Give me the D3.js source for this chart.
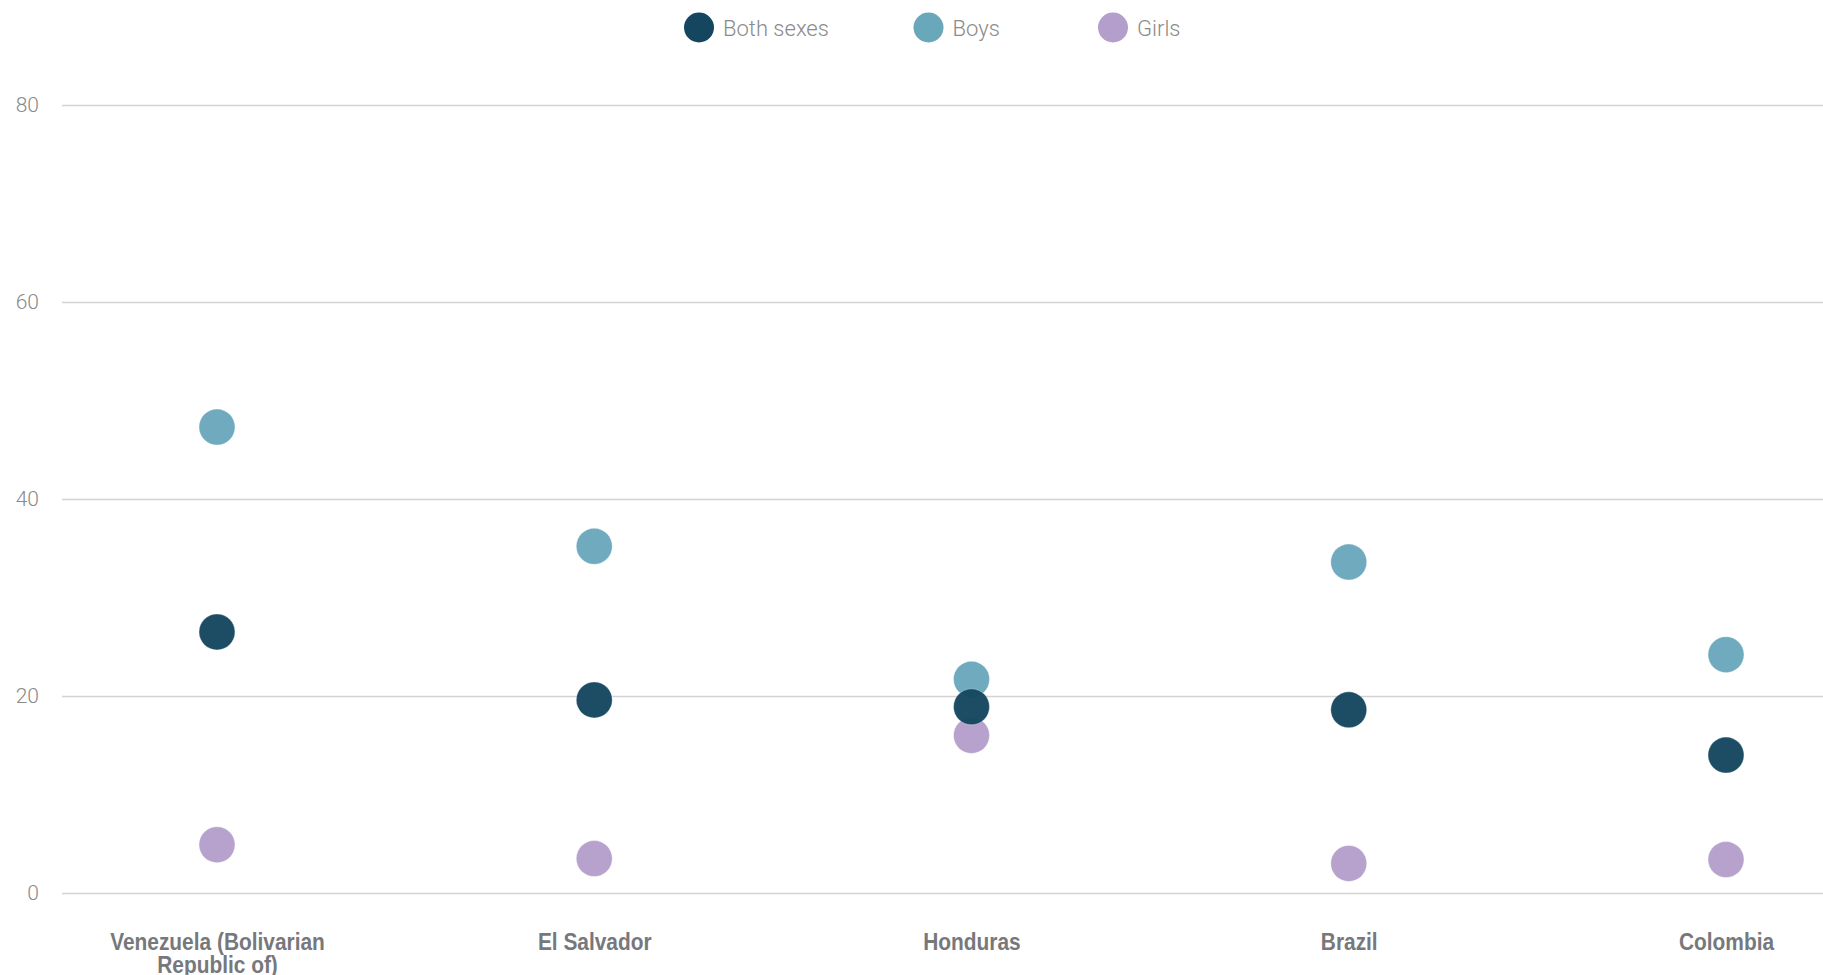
<!DOCTYPE html>
<html>
<head>
<meta charset="utf-8">
<script src="https://cdn.jsdelivr.net/npm/d3@7"></script>
<style>
  html, body { margin: 0; padding: 0; background: #fff; }
  svg { display: block; }
</style>
</head>
<body>
<svg id="chart" width="1823" height="975"></svg>
<script>
// ---- Data ----
const categories = ["Venezuela (Bolivarian Republic of)", "El Salvador", "Honduras", "Brazil", "Colombia"];
const bothSexes = [26.5, 19.6, 18.9, 18.6, 14.0];
const boys      = [47.3, 35.2, 21.7, 33.6, 24.2];
const girls     = [4.9, 3.5, 16.0, 3.0, 3.4];
const yTicks    = [0, 20, 40, 60, 80];
const seriesNames = ["Both sexes", "Boys", "Girls"];

// ---- Setup ----
const W = 1823, H = 975;
const svg = d3.select("#chart");
const colors = { "Both sexes": "#14465f", "Boys": "#69a7bb", "Girls": "#b49ecb" };

const x = d3.scalePoint().domain(categories).range([217, 1726]);
const y = d3.scaleLinear().domain([0, 80]).range([893, 105]);

// gridlines + y labels
const yAxis = d3.axisLeft(y).tickValues(yTicks).tickSize(-(W - 62)).tickPadding(23);
const gy = svg.append("g").attr("transform", "translate(62,0)").call(yAxis);
gy.select(".domain").remove();
gy.selectAll(".tick line").attr("stroke", "#d3d3d3").attr("stroke-width", 1.3);
gy.selectAll(".tick text")
  .attr("fill", "#8a8a8a")
  .attr("font-family", "Roboto, 'Liberation Sans', sans-serif")
  .attr("font-weight", 300)
  .attr("font-size", 21)
  .attr("dy", "0.3em");

// x labels
const xAxis = d3.axisBottom(x).tickSize(0).tickPadding(0);
const gx = svg.append("g").attr("transform", "translate(0,950)").call(xAxis);
gx.select(".domain").remove();
gx.selectAll(".tick text")
  .attr("fill", "#77787b")
  .attr("font-family", "'Liberation Sans', Arial, sans-serif")
  .attr("font-weight", 700)
  .attr("font-size", 24)
  .attr("transform", "scale(0.87,1)")
  .attr("dy", 0)
  .attr("y", 0)
  .each(function(d) {
    const t = d3.select(this);
    const words = d.split(" ");
    t.text(null);
    let line = [];
    let tspan = t.append("tspan").attr("x", 0).attr("dy", 0);
    words.forEach(w => {
      line.push(w);
      tspan.text(line.join(" "));
      if (tspan.node().getComputedTextLength() > 270 && line.length > 1) {
        line.pop();
        tspan.text(line.join(" "));
        line = [w];
        tspan = t.append("tspan").attr("x", 0).attr("dy", 23).text(w);
      }
    });
  });

// points
const series = [
  { name: "Girls", values: girls },
  { name: "Boys", values: boys },
  { name: "Both sexes", values: bothSexes }
];
series.forEach(s => {
  svg.append("g").selectAll("circle")
    .data(s.values.map((v, i) => ({ cat: categories[i], v })))
    .join("circle")
    .attr("cx", d => x(d.cat))
    .attr("cy", d => y(d.v))
    .attr("r", 18)
    .attr("fill", colors[s.name])
    .attr("fill-opacity", 0.96)
    .attr("stroke", "#ffffff")
    .attr("stroke-opacity", 0.35)
    .attr("stroke-width", 1);
});

// legend
const legendX = [699, 928.5, 1113];
const lg = svg.append("g");
seriesNames.forEach((n, i) => {
  const g = lg.append("g").attr("transform", `translate(${legendX[i]},27.5)`);
  g.append("circle").attr("r", 15).attr("fill", colors[n]);
  g.append("text").attr("x", 24).attr("y", 8.3)
    .attr("fill", "#8a8a8a")
    .attr("font-family", "Roboto, 'Liberation Sans', sans-serif")
    .attr("font-weight", 300)
    .attr("font-size", 22)
    .text(n);
});
</script>
</body>
</html>
